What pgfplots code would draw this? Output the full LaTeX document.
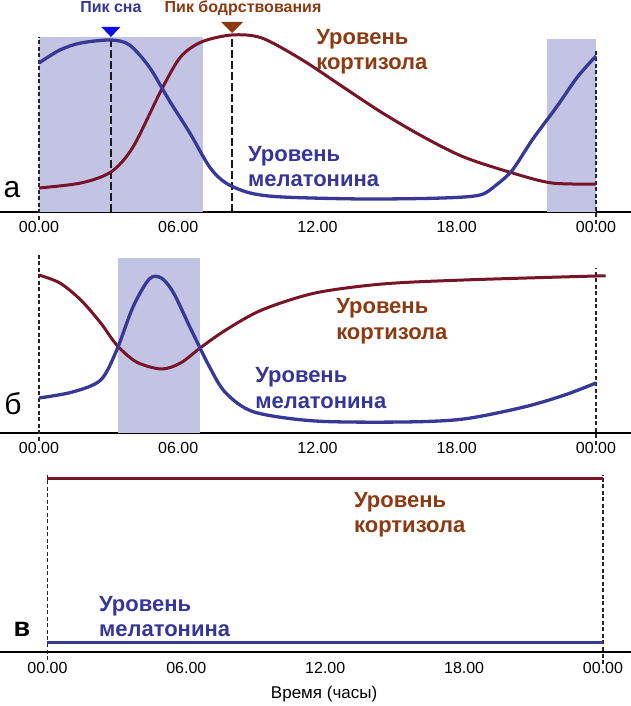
\documentclass[border=0pt]{standalone}
\usepackage{pgfplots}
\pgfplotsset{compat=1.18}
\usepackage{fontspec}
\setmainfont{Liberation Sans}
\definecolor{mel}{HTML}{383896}
\definecolor{cor}{HTML}{781428}
\definecolor{cortxt}{HTML}{8B3A12}
\definecolor{meltxt}{HTML}{35359A}
\definecolor{shadec}{HTML}{C3C3E3}
\definecolor{tribl}{HTML}{0A0AF0}
\tikzset{lbl/.style={anchor=base west, inner sep=0pt, font=\fontsize{22}{22}\selectfont\bfseries},
  gdash/.style={draw=black!85, line width=1.1pt, dash pattern=on 4pt off 2.5pt},
  kdash/.style={draw=black!90, line width=1.3pt, dash pattern=on 8pt off 3pt}}
\pgfplotsset{panel/.style={scale only axis, width=631pt, clip=false,
  axis x line*=bottom, axis y line=none, ytick=\empty,
  xtick={0,6,12,18,24}, xticklabels={00.00,06.00,12.00,18.00,00.00},
  xtick style={draw=none},
  xticklabel style={anchor=base, yshift=-21pt, font=\fontsize{16}{16}\selectfont},
  axis line style={line width=1.1pt, black},
  ymin=0, anchor=south west}}
\begin{document}
\begin{tikzpicture}
\useasboundingbox (0,0) rectangle (631pt,706pt);
% ---------------- panel a ----------------
\begin{axis}[panel, at={(0pt,494pt)}, height=212pt, ymax=212, xmin=-1.6805, xmax=25.508]
\fill[shadec] (axis cs:0,0) rectangle (axis cs:7.07,175);
\fill[shadec] (axis cs:21.9,0) rectangle (axis cs:24,173);
\draw[gdash] (axis cs:0,-8) -- (axis cs:0,175);
\draw[gdash] (axis cs:24,-12) -- (axis cs:24,162);
\draw[kdash] (axis cs:3.1,0) -- (axis cs:3.1,175);
\draw[kdash] (axis cs:8.32,0) -- (axis cs:8.32,177);
\addplot[cor, line width=3pt, smooth] coordinates {
(0,24) (1.8,29) (3.1,40) (4.05,65) (5.27,122) (6.1,155) (7.0,170) (8.3,177) (9.6,174)
(11.35,152) (13.1,125) (14.8,99) (16.57,75) (18.3,55) (20.4,39) (22.1,29) (24,28)};
\addplot[mel, line width=3.3pt, smooth] coordinates {
(0,149) (0.9,162) (1.8,169) (3.1,172) (3.9,167) (4.75,145) (5.6,112) (6.5,79) (7.35,45)
(8.05,29) (9.1,19) (10.5,15) (14,13) (17.4,14) (19,17) (19.7,27) (20.4,42) (21.25,72)
(22.3,105) (23.2,135) (24,156)};
\addplot[fill=tribl, draw=none] coordinates {(2.69,185) (3.51,185) (3.1,175)} -- cycle;
\addplot[fill=cortxt, draw=none] coordinates {(7.85,190) (8.79,190) (8.32,179)} -- cycle;
\node[anchor=base, inner sep=0pt, font=\fontsize{16}{16}\selectfont\bfseries, text=meltxt] at (axis cs:3.1,199) {Пик сна};
\node[anchor=base, inner sep=0pt, font=\fontsize{16}{16}\selectfont\bfseries, text=cortxt] at (axis cs:8.79,199) {Пик бодрствования};
\node[lbl, text=cortxt] at (axis cs:11.94,167) {Уровень};
\node[lbl, text=cortxt] at (axis cs:11.94,142) {кортизола};
\node[lbl, text=meltxt] at (axis cs:9.0,50) {Уровень};
\node[lbl, text=meltxt] at (axis cs:9.0,25) {мелатонина};
\node[anchor=base, inner sep=0pt, font=\fontsize{30}{30}\selectfont] at (axis cs:-1.16,14) {а};
\end{axis}
% ---------------- panel b ----------------
\begin{axis}[panel, at={(0pt,273pt)}, height=188pt, ymax=188, xmin=-1.6805, xmax=25.508]
\fill[shadec] (axis cs:3.4,0) rectangle (axis cs:6.95,175);
\draw[gdash] (axis cs:0,-8) -- (axis cs:0,180);
\draw[gdash] (axis cs:24,-12) -- (axis cs:24,165);
\addplot[cor, line width=3pt, smooth] coordinates {
(0,158) (0.9,150) (1.8,133) (2.66,110) (3.35,88) (4.2,71) (5.27,64) (6.1,70) (7,86)
(8.05,103) (9.6,123) (11.9,140) (14.8,149) (18.3,153) (24,157) (24.2,157)};
\addplot[mel, line width=3.3pt, smooth] coordinates {
(0,35) (1.45,41) (2.66,53) (3.35,83) (4.05,126) (4.75,154) (5.27,155) (5.8,140) (6.5,106)
(7.35,66) (8.05,40) (9.27,21) (11.9,12) (15.7,11) (18.3,14) (20.9,26) (22.65,38) (24,50)};
\node[lbl, text=cortxt] at (axis cs:12.8,119) {Уровень};
\node[lbl, text=cortxt] at (axis cs:12.8,93) {кортизола};
\node[lbl, text=meltxt] at (axis cs:9.31,50) {Уровень};
\node[lbl, text=meltxt] at (axis cs:9.31,24) {мелатонина};
\node[anchor=base, inner sep=0pt, font=\fontsize{30}{30}\selectfont] at (axis cs:-1.12,18) {б};
\end{axis}
% ---------------- panel c ----------------
\begin{axis}[panel, at={(0pt,54pt)}, height=180pt, ymax=180, xmin=-2.052, xmax=25.21]
\draw[gdash] (axis cs:0,-8) -- (axis cs:0,177);
\draw[gdash] (axis cs:24,-12) -- (axis cs:24,177);
\addplot[cor, line width=3pt] coordinates {(0,173) (24,173)};
\addplot[mel, line width=3pt] coordinates {(0,9) (24,9)};
\node[lbl, text=cortxt] at (axis cs:13.24,144) {Уровень};
\node[lbl, text=cortxt] at (axis cs:13.24,119) {кортизола};
\node[lbl, text=meltxt] at (axis cs:2.22,40) {Уровень};
\node[lbl, text=meltxt] at (axis cs:2.22,15) {мелатонина};
\node[anchor=base, inner sep=0pt, font=\fontsize{27}{27}\selectfont\bfseries] at (axis cs:-1.1,15) {в};
\node[anchor=base, inner sep=0pt, font=\fontsize{17}{17}\selectfont] at (axis cs:11.95,-46) {Время (часы)};
\end{axis}
\end{tikzpicture}
\end{document}
